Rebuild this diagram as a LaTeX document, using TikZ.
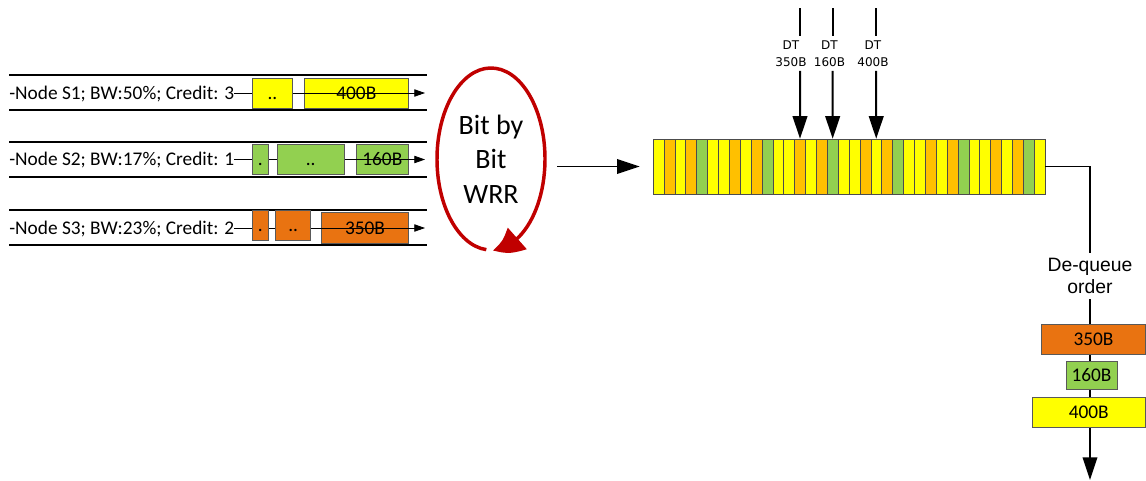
\documentclass[tikz,border=0pt]{standalone}
\usepackage{fontspec}
\setmainfont{Carlito}
\newfontfamily\dtfont{DejaVu Sans}
\newfontfamily\qfont{Liberation Sans}
\usetikzlibrary{arrows.meta,bending,positioning}
\definecolor{pktYellow}{HTML}{FFFF00}
\definecolor{pktGreen}{HTML}{92D050}
\definecolor{pktOrange}{HTML}{E97311}
\definecolor{slotAmber}{HTML}{FFC000}
\definecolor{wrrRed}{HTML}{C00000}

\begin{document}
\begin{tikzpicture}[x=0.75pt,y=0.75pt,
    pkt/.style={draw=black!65,line width=0.5pt,minimum height=22.5pt,inner sep=0pt,
      text height=9.3pt,text depth=0pt,font=\fontsize{14.5}{17}\selectfont},
    chan/.style={line width=1.5pt},
    flow/.style={-{Triangle[length=8pt,width=5.5pt]},line width=0.6pt},
    srclabel/.style={anchor=west,inner sep=0pt,text height=9.3pt,text depth=0pt,
      font=\fontsize{14.5}{17}\selectfont},
    slot/.style={draw=black!70,line width=0.4pt,minimum width=8.17pt,
      minimum height=41.25pt,inner sep=0pt},
    dtlabel/.style={align=center,font=\dtfont\fontsize{9}{13}\selectfont,
      inner xsep=1pt,inner ysep=3pt},
    bigarrow/.style={-{Triangle[length=17pt,width=11pt]},line width=1.5pt},
    wrrarc/.style={draw=wrrRed,line width=2.6pt,-{Triangle[length=20pt,width=21pt,bend]}}]
  \useasboundingbox (0,0) rectangle (1146,480);

  % input queues
  \foreach \yy in {405,370,338,303,270,235}
    \draw[chan] (9,\yy) -- (427,\yy);
  \node[srclabel] (src1) at (9,387) {-Node S1; BW:50\%; Credit: 3};
  \node[srclabel] (src2) at (9,320.5) {-Node S2; BW:17\%; Credit: 1};
  \node[srclabel] (src3) at (9,252) {-Node S3; BW:23\%; Credit: 2};
  \coordinate (out1) at (425,387);
  \coordinate (out2) at (425,320.5);
  \coordinate (out3) at (425,252);

  \node[pkt,fill=pktYellow,minimum width=78pt] (head1) at (356.3,387) {400B};
  \node[pkt,fill=pktGreen,minimum width=39pt] (head2) at (382.3,320.5) {160B};
  \node[pkt,fill=pktOrange,minimum width=65pt,minimum height=23pt] (head3) at (365,252) {350B};
  \draw[flow] (src1) -- (out1);
  \draw[flow] (src2) -- (out2);
  \draw[flow] (src3) -- (out3);
  \node[pkt,fill=pktYellow,minimum width=30.3pt] (mid1) at (272.5,387) {..};
  \node[pkt,fill=pktGreen,minimum width=12pt] (tail2) at (260.3,320.5) {.};
  \node[pkt,fill=pktGreen,minimum width=50pt] (mid2) at (310.7,320.5) {..};
  \node[pkt,fill=pktOrange,minimum width=12pt] (tail3) at (260.3,254.3) {.};
  \node[pkt,fill=pktOrange,minimum width=26.25pt] (mid3) at (293.2,254.3) {..};

  % scheduler
  \node[align=center,font=\fontsize{21}{26}\selectfont,inner sep=0pt] (wrr) at (491,321) {Bit by\\Bit\\WRR};
  \draw[wrrarc] (wrr.center) ++(265:54 and 91)
    arc[start angle=265,end angle=-88,x radius=54,y radius=91];

  % output queue
  \foreach \k in {0,...,5}
    \foreach \c [count=\j] in {pktYellow,slotAmber,pktYellow,slotAmber,pktGreen,pktYellow} {
      \pgfmathtruncatemacro{\i}{6*\k+\j}
      \node[slot,fill=\c] (s\i) at ({653+10.889*(\i-0.5)},313.5) {};
    }
  \node[draw=black!70,line width=0.5pt,minimum width=294pt,minimum height=41.25pt,
    inner sep=0pt] (queue) at (849,313.5) {};
  \coordinate (wrrout) at (557,313.5);
  \draw[bigarrow,line width=1.1pt,shorten >=9.75pt] (wrrout) -- (queue.west);

  \foreach \n/\x/\lx/\t/\s in {1/800/791/350B/14,2/832.7/829.5/160B/17,3/876.2/873/400B/21} {
    \coordinate (dtin\n) at (\x,472);
    \node[dtlabel] (dt\n) at (\lx,426.5) {DT\\\t};
    \draw[line width=1.5pt] (dtin\n) -- (dtin\n |- dt\n.north);
    \draw[bigarrow] (dtin\n |- dt\n.south) -- (s\s.north);
  }

  % de-queue
  \node[font=\qfont\fontsize{14.5}{16.7}\selectfont,align=center,inner sep=4pt] (deq) at (1090,204) {De-queue\\order};
  \coordinate (deqout) at (1090,0);
  \draw[line width=1.1pt] (queue.east) -| (deq.north);
  \draw[bigarrow,line width=1.1pt] (deq.south) -- (deqout);
  \node[pkt,fill=pktOrange,minimum width=77.6pt] (q1) at (1093.5,141) {350B};
  \node[pkt,fill=pktGreen,minimum width=38.25pt,minimum height=21pt] (q2) at (1091.5,105) {160B};
  \node[pkt,fill=pktYellow,minimum width=85.1pt] (q3) at (1088.75,68) {400B};
\end{tikzpicture}
\end{document}
